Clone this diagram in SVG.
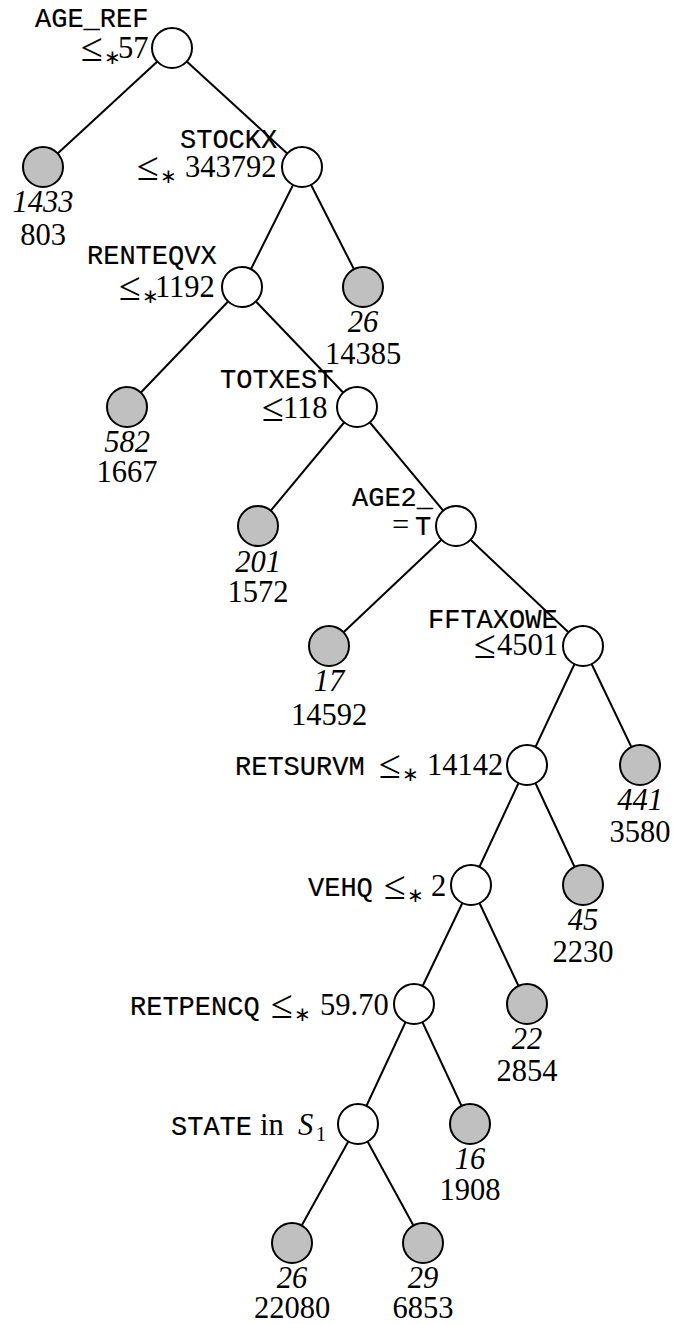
<svg xmlns="http://www.w3.org/2000/svg" width="673" height="1324" viewBox="0 0 673 1324">
<style>
.bg{fill:#fff}
.edge{stroke:#000;stroke-width:2;fill:none}
.inner{fill:#fff;stroke:#000;stroke-width:2}
.leaf{fill:#c0c0c0;stroke:#000;stroke-width:2}
.m{font-family:"Liberation Mono",monospace;font-size:27px;fill:#000;stroke:#000;stroke-width:0.2}
.s{font-family:"Liberation Serif",serif;font-size:30.5px;fill:#000}
.i{font-family:"Liberation Serif",serif;font-size:30.5px;font-style:italic;fill:#000}
.le{font-family:"Liberation Serif",serif;font-size:40px;fill:#000}
.sub{font-family:"Liberation Serif",serif;font-size:20px;fill:#000}
.c{text-anchor:middle}
</style>
<rect class="bg" x="0" y="0" width="673" height="1324"/>
<g id="connectors">
<line class="edge" x1="172" y1="48" x2="43" y2="167"/>
<line class="edge" x1="172" y1="48" x2="302" y2="167"/>
<line class="edge" x1="302" y1="167" x2="242" y2="287"/>
<line class="edge" x1="302" y1="167" x2="363" y2="287"/>
<line class="edge" x1="242" y1="287" x2="127" y2="407"/>
<line class="edge" x1="242" y1="287" x2="357" y2="407"/>
<line class="edge" x1="357" y1="407" x2="258" y2="526"/>
<line class="edge" x1="357" y1="407" x2="456" y2="526"/>
<line class="edge" x1="456" y1="526" x2="329" y2="646"/>
<line class="edge" x1="456" y1="526" x2="583" y2="646"/>
<line class="edge" x1="583" y1="646" x2="527" y2="765"/>
<line class="edge" x1="583" y1="646" x2="640" y2="765"/>
<line class="edge" x1="527" y1="765" x2="471" y2="885"/>
<line class="edge" x1="527" y1="765" x2="583" y2="885"/>
<line class="edge" x1="471" y1="885" x2="414" y2="1004"/>
<line class="edge" x1="471" y1="885" x2="527" y2="1004"/>
<line class="edge" x1="414" y1="1004" x2="358" y2="1124"/>
<line class="edge" x1="414" y1="1004" x2="470" y2="1124"/>
<line class="edge" x1="358" y1="1124" x2="292" y2="1243"/>
<line class="edge" x1="358" y1="1124" x2="423" y2="1243"/>
</g>
<g id="n_age_ref">
<circle class="inner" cx="172" cy="48" r="20"/>
<text class="m" x="35" y="27">AGE_REF</text>
<text><tspan class="le" x="81" y="61">≤</tspan><tspan class="sub" x="104" y="64">∗</tspan><tspan class="s" x="118" y="58">57</tspan></text>
</g>
<g id="leaf_1433">
<circle class="leaf" cx="43" cy="167" r="20"/>
<text class="i c" x="43" y="212">1433</text>
<text class="s c" x="43" y="245">803</text>
</g>
<g id="n_stockx">
<circle class="inner" cx="302" cy="167" r="20"/>
<text class="m" x="180" y="148">STOCKX</text>
<text><tspan class="le" x="137" y="180">≤</tspan><tspan class="sub" x="160" y="183">∗</tspan><tspan class="s" x="185" y="177">343792</tspan></text>
</g>
<g id="n_renteqvx">
<circle class="inner" cx="242" cy="287" r="20"/>
<text class="m" x="87" y="264">RENTEQVX</text>
<text><tspan class="le" x="119" y="300">≤</tspan><tspan class="sub" x="142" y="303">∗</tspan><tspan class="s" x="155" y="297">1192</tspan></text>
</g>
<g id="leaf_26a">
<circle class="leaf" cx="363" cy="287" r="20"/>
<text class="i c" x="363" y="332">26</text>
<text class="s c" x="363" y="364">14385</text>
</g>
<g id="leaf_582">
<circle class="leaf" cx="127" cy="407" r="20"/>
<text class="i c" x="127" y="452">582</text>
<text class="s c" x="127" y="482">1667</text>
</g>
<g id="n_totxest">
<circle class="inner" cx="357" cy="407" r="20"/>
<text class="m" x="220" y="388">TOTXEST</text>
<text><tspan class="le" x="262" y="421">≤</tspan><tspan class="s" x="283" y="418">118</tspan></text>
</g>
<g id="leaf_201">
<circle class="leaf" cx="258" cy="526" r="20"/>
<text class="i c" x="258" y="572">201</text>
<text class="s c" x="258" y="602">1572</text>
</g>
<g id="n_age2">
<circle class="inner" cx="456" cy="526" r="20"/>
<text class="m" x="352" y="506">AGE2_</text>
<text y="535"><tspan class="s" x="392">=</tspan><tspan class="m" x="415">T</tspan></text>
</g>
<g id="leaf_17">
<circle class="leaf" cx="329" cy="646" r="20"/>
<text class="i c" x="329" y="691">17</text>
<text class="s c" x="329" y="725">14592</text>
</g>
<g id="n_fftaxowe">
<circle class="inner" cx="583" cy="646" r="20"/>
<text class="m" x="428" y="628">FFTAXOWE</text>
<text><tspan class="le" x="474" y="658">≤</tspan><tspan class="s" x="497" y="655">4501</tspan></text>
</g>
<g id="n_retsurvm">
<circle class="inner" cx="527" cy="765" r="20"/>
<text><tspan class="m" x="235" y="775">RETSURVM</tspan><tspan class="le" x="379" y="778">≤</tspan><tspan class="sub" x="402" y="781">∗</tspan><tspan class="s" x="427" y="775">14142</tspan></text>
</g>
<g id="leaf_441">
<circle class="leaf" cx="640" cy="765" r="20"/>
<text class="i c" x="640" y="810">441</text>
<text class="s c" x="640" y="842">3580</text>
</g>
<g id="n_vehq">
<circle class="inner" cx="471" cy="885" r="20"/>
<text><tspan class="m" x="308" y="896">VEHQ</tspan><tspan class="le" x="384" y="899">≤</tspan><tspan class="sub" x="407" y="902">∗</tspan><tspan class="s" x="431" y="896">2</tspan></text>
</g>
<g id="leaf_45">
<circle class="leaf" cx="583" cy="885" r="20"/>
<text class="i c" x="583" y="930">45</text>
<text class="s c" x="583" y="962">2230</text>
</g>
<g id="n_retpencq">
<circle class="inner" cx="414" cy="1004" r="20"/>
<text><tspan class="m" x="130" y="1015">RETPENCQ</tspan><tspan class="le" x="271" y="1018">≤</tspan><tspan class="sub" x="294" y="1021">∗</tspan><tspan class="s" x="320" y="1015">59.70</tspan></text>
</g>
<g id="leaf_22">
<circle class="leaf" cx="527" cy="1004" r="20"/>
<text class="i c" x="527" y="1049">22</text>
<text class="s c" x="527" y="1081">2854</text>
</g>
<g id="n_state">
<circle class="inner" cx="358" cy="1124" r="20"/>
<text><tspan class="m" x="171" y="1135">STATE</tspan><tspan class="s" x="260" y="1135">in</tspan><tspan class="i" x="298" y="1135">S</tspan><tspan class="sub" x="316" y="1141">1</tspan></text>
</g>
<g id="leaf_16">
<circle class="leaf" cx="470" cy="1124" r="20"/>
<text class="i c" x="470" y="1169">16</text>
<text class="s c" x="470" y="1200">1908</text>
</g>
<g id="leaf_26b">
<circle class="leaf" cx="292" cy="1243" r="20"/>
<text class="i c" x="292" y="1288">26</text>
<text class="s c" x="292" y="1318">22080</text>
</g>
<g id="leaf_29">
<circle class="leaf" cx="423" cy="1243" r="20"/>
<text class="i c" x="423" y="1288">29</text>
<text class="s c" x="423" y="1318">6853</text>
</g>
</svg>
